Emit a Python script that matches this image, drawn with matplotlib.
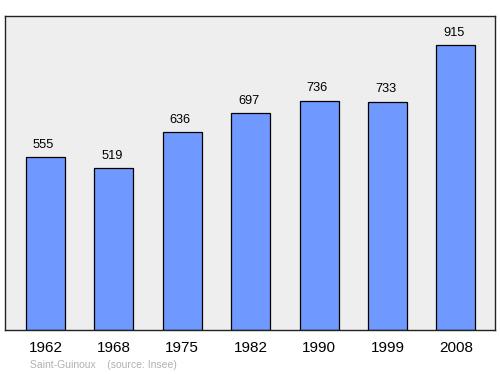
import matplotlib
matplotlib.use("Agg")
import matplotlib.pyplot as plt

plt.rcParams["font.family"] = ["Liberation Sans", "DejaVu Sans"]

years = ["1962", "1968", "1975", "1982", "1990", "1999", "2008"]
population = [555, 519, 636, 697, 736, 733, 915]

fig = plt.figure(figsize=(5, 3.74), dpi=100)
ax = fig.add_axes([0.01, 0.1176, 0.98, 0.8396])
ax.set_facecolor("#eeeeee")
x = list(range(len(years)))
ax.bar(x, population, width=0.57, color="#7099ff", edgecolor="#000000", linewidth=0.9, zorder=2)
for xi, v in zip(x, population):
    ax.annotate(str(v), (xi, v), xytext=(-1.5, 4.5), textcoords="offset points",
                ha="center", va="bottom", fontsize=9.2, color="#000000")
ax.set_xlim(-0.59, 6.57)
ax.set_ylim(0, 1008)
ax.set_yticks([])
ax.set_xticks(x)
ax.set_xticklabels(years, fontsize=11)
ax.tick_params(axis="x", length=0, pad=8)
for s in ax.spines.values():
    s.set_linewidth(1.0)
    s.set_color("#222222")
fig.text(0.06, 0.012, "Saint-Guinoux    (source: Insee)", fontsize=7.5, color="#b0b0b0", ha="left", va="bottom")
fig.savefig("out.png", dpi=100)
